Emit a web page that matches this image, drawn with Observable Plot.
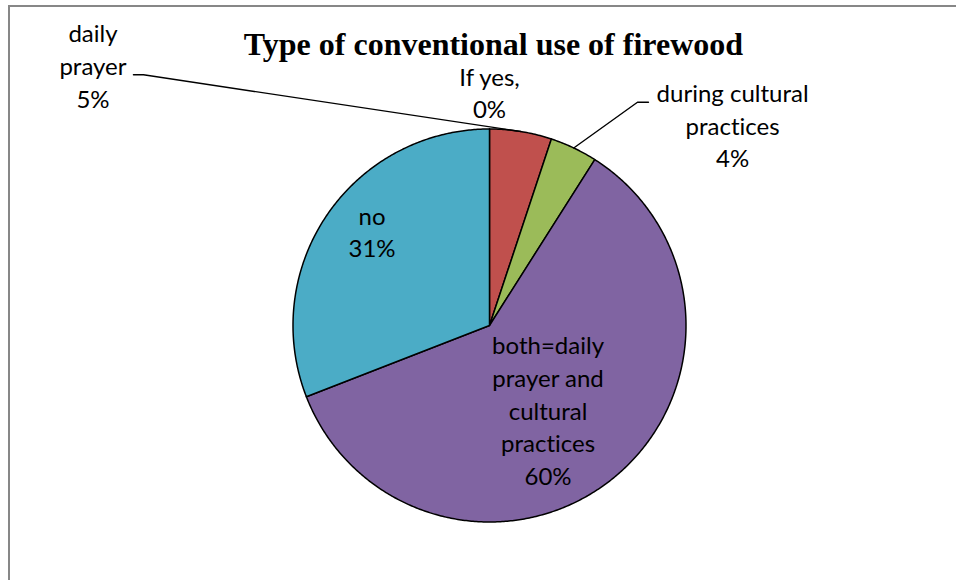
<!DOCTYPE html>
<html>
<head>
<meta charset="utf-8">
<script src="https://cdn.jsdelivr.net/npm/d3@7"></script>
<script src="https://cdn.jsdelivr.net/npm/@observablehq/plot@0.6"></script>
<style>
  html, body { margin: 0; padding: 0; background: #fff; overflow: hidden; width: 956px; height: 580px; }
  #frame { position: absolute; left: 8px; top: 5px; width: 1000px; height: 700px; border: 2px solid #878787; box-sizing: border-box; }
  #chart { position: absolute; left: 0; top: 0; }
  #chart text { font-variant-ligatures: none; font-feature-settings: "liga" 0, "clig" 0; }
</style>
</head>
<body>
<div id="frame"></div>
<div id="chart"></div>
<script>
// ---- data ----
const title = "Type of conventional use of firewood";
const categories = ["If yes,", "daily prayer", "during cultural practices", "both=daily prayer and cultural practices", "no"];
const shares = [0, 5.1, 3.9, 60.1, 30.9];
const wrappedNames = ["If yes,", "daily\nprayer", "during cultural\npractices", "both=daily\nprayer and\ncultural\npractices", "no"];
const colors = ["#4F81BD", "#C0504D", "#9BBB59", "#8064A2", "#4BACC6"];

// ---- layout (label anchors in pie-radius units, relative to pie centre) ----
const labelPos = {
  "If yes,": [0, 1.191],
  "daily prayer": [-2.018, 1.328],
  "during cultural practices": [1.237, 1.025],
  "both=daily prayer and cultural practices": [0.298, -0.426],
  "no": [-0.598, 0.483]
};
// leader lines: label end point and elbow x (pie-radius units)
const leaderPos = {
  "daily prayer": {x0: -1.812, x1: -1.761, y: 1.276},
  "during cultural practices": {x0: 0.809, x1: 0.753, y: 1.136}
};
const titlePos = [0.02, 1.4285];

// ---- build ----
const rows = categories.map((c, i) => ({category: c, share: shares[i], name: wrappedNames[i]}));
const arcs = d3.pie().sort(null).value(d => d.share)(rows);

const slicePts = [];
arcs.forEach(a => {
  const cat = a.data.category;
  slicePts.push({cat, x: 0, y: 0});
  const n = Math.max(1, Math.ceil((a.endAngle - a.startAngle) / (Math.PI / 360)));
  for (let i = 0; i <= n; i++) {
    const t = a.startAngle + (a.endAngle - a.startAngle) * i / n;
    slicePts.push({cat, x: Math.sin(t), y: Math.cos(t)});
  }
});

const leaderPts = [];
arcs.forEach(a => {
  const cat = a.data.category;
  const L = leaderPos[cat];
  if (!L) return;
  const m = (a.startAngle + a.endAngle) / 2;
  leaderPts.push({cat, x: L.x0, y: L.y});
  leaderPts.push({cat, x: L.x1, y: L.y});
  leaderPts.push({cat, x: Math.sin(m), y: Math.cos(m)});
});

const labels = rows.map(r => ({
  x: labelPos[r.category][0],
  y: labelPos[r.category][1],
  text: r.name + "\n" + Math.round(r.share) + "%"
}));

const cx = 489, cy = 325, R = 196.5, W = 956, H = 580;

const chart = Plot.plot({
  width: W,
  height: H,
  marginLeft: cx - R,
  marginRight: W - cx - R,
  marginTop: cy - R,
  marginBottom: H - cy - R,
  x: {domain: [-1, 1], axis: null},
  y: {domain: [-1, 1], axis: null},
  color: {domain: categories, range: colors},
  style: {background: "transparent", overflow: "visible"},
  marks: [
    Plot.line(slicePts, {x: "x", y: "y", z: "cat", fill: "cat", stroke: "#000", strokeWidth: 1.5, curve: "linear-closed", strokeLinejoin: "round"}),
    Plot.line(leaderPts, {x: "x", y: "y", z: "cat", stroke: "#000", strokeWidth: 1.4}),
    Plot.text(labels, {x: "x", y: "y", text: "text", fontFamily: "Lato", fontSize: 24, lineHeight: 1.36, fill: "#000", textAnchor: "middle"}),
    Plot.text([title], {x: () => titlePos[0], y: () => titlePos[1], text: d => d, fontFamily: "Liberation Serif", fontWeight: "bold", fontSize: 32, fill: "#000", textAnchor: "middle"})
  ]
});
document.getElementById("chart").appendChild(chart);
</script>
</body>
</html>
